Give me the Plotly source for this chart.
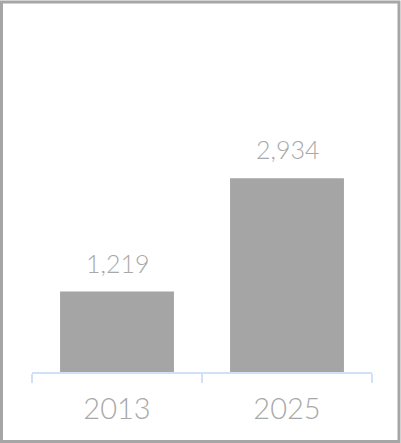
import plotly.graph_objects as go

categories = ["2013", "2025"]
values = [1219, 2934]
labels = ["1,219", "2,934"]

W, H = 401, 443
L, R, T, B = 32, 29, 30, 71
pw, ph = W - L - R, H - T - B

def px(x):
    return (x - L) / pw

def py(y):
    return (H - B - y) / ph

fig = go.Figure()
fig.add_trace(go.Bar(
    x=categories, y=values,
    marker=dict(color="#a5a5a5", line=dict(width=0)),
    hoverinfo="skip",
))

for i, (v, t) in enumerate(zip(values, labels)):
    fig.add_annotation(
        x=i, y=v, xref="x", yref="y", text=t, showarrow=False,
        yanchor="bottom", yshift=12,
        font=dict(family="Lato", size=25, color="#a8a8a8", weight=300),
    )

fig.add_shape(
    type="rect", xref="paper", yref="paper",
    x0=px(1.5), x1=px(399.0), y0=py(441.5), y1=py(2.0),
    line=dict(color="#a6a6a6", width=3), fillcolor="rgba(0,0,0,0)", layer="above",
)

fig.update_layout(
    width=W, height=H,
    margin=dict(l=L, r=R, t=T, b=B, pad=0),
    paper_bgcolor="white", plot_bgcolor="white",
    bargap=0.33, showlegend=False,
    xaxis=dict(
        type="category", range=[-0.5, 1.5],
        showline=True, linecolor="#cfe0f7", linewidth=2,
        ticks="outside", tickson="boundaries", ticklen=9, tickwidth=2, tickcolor="#cfe0f7",
        showgrid=False, zeroline=False,
        tickfont=dict(family="Lato", size=29, color="#a8a8a8", weight=300),
        ticklabelstandoff=10,
    ),
    yaxis=dict(range=[0, 5180], visible=False, showgrid=False, zeroline=False),
)

fig.write_html("out.html")
